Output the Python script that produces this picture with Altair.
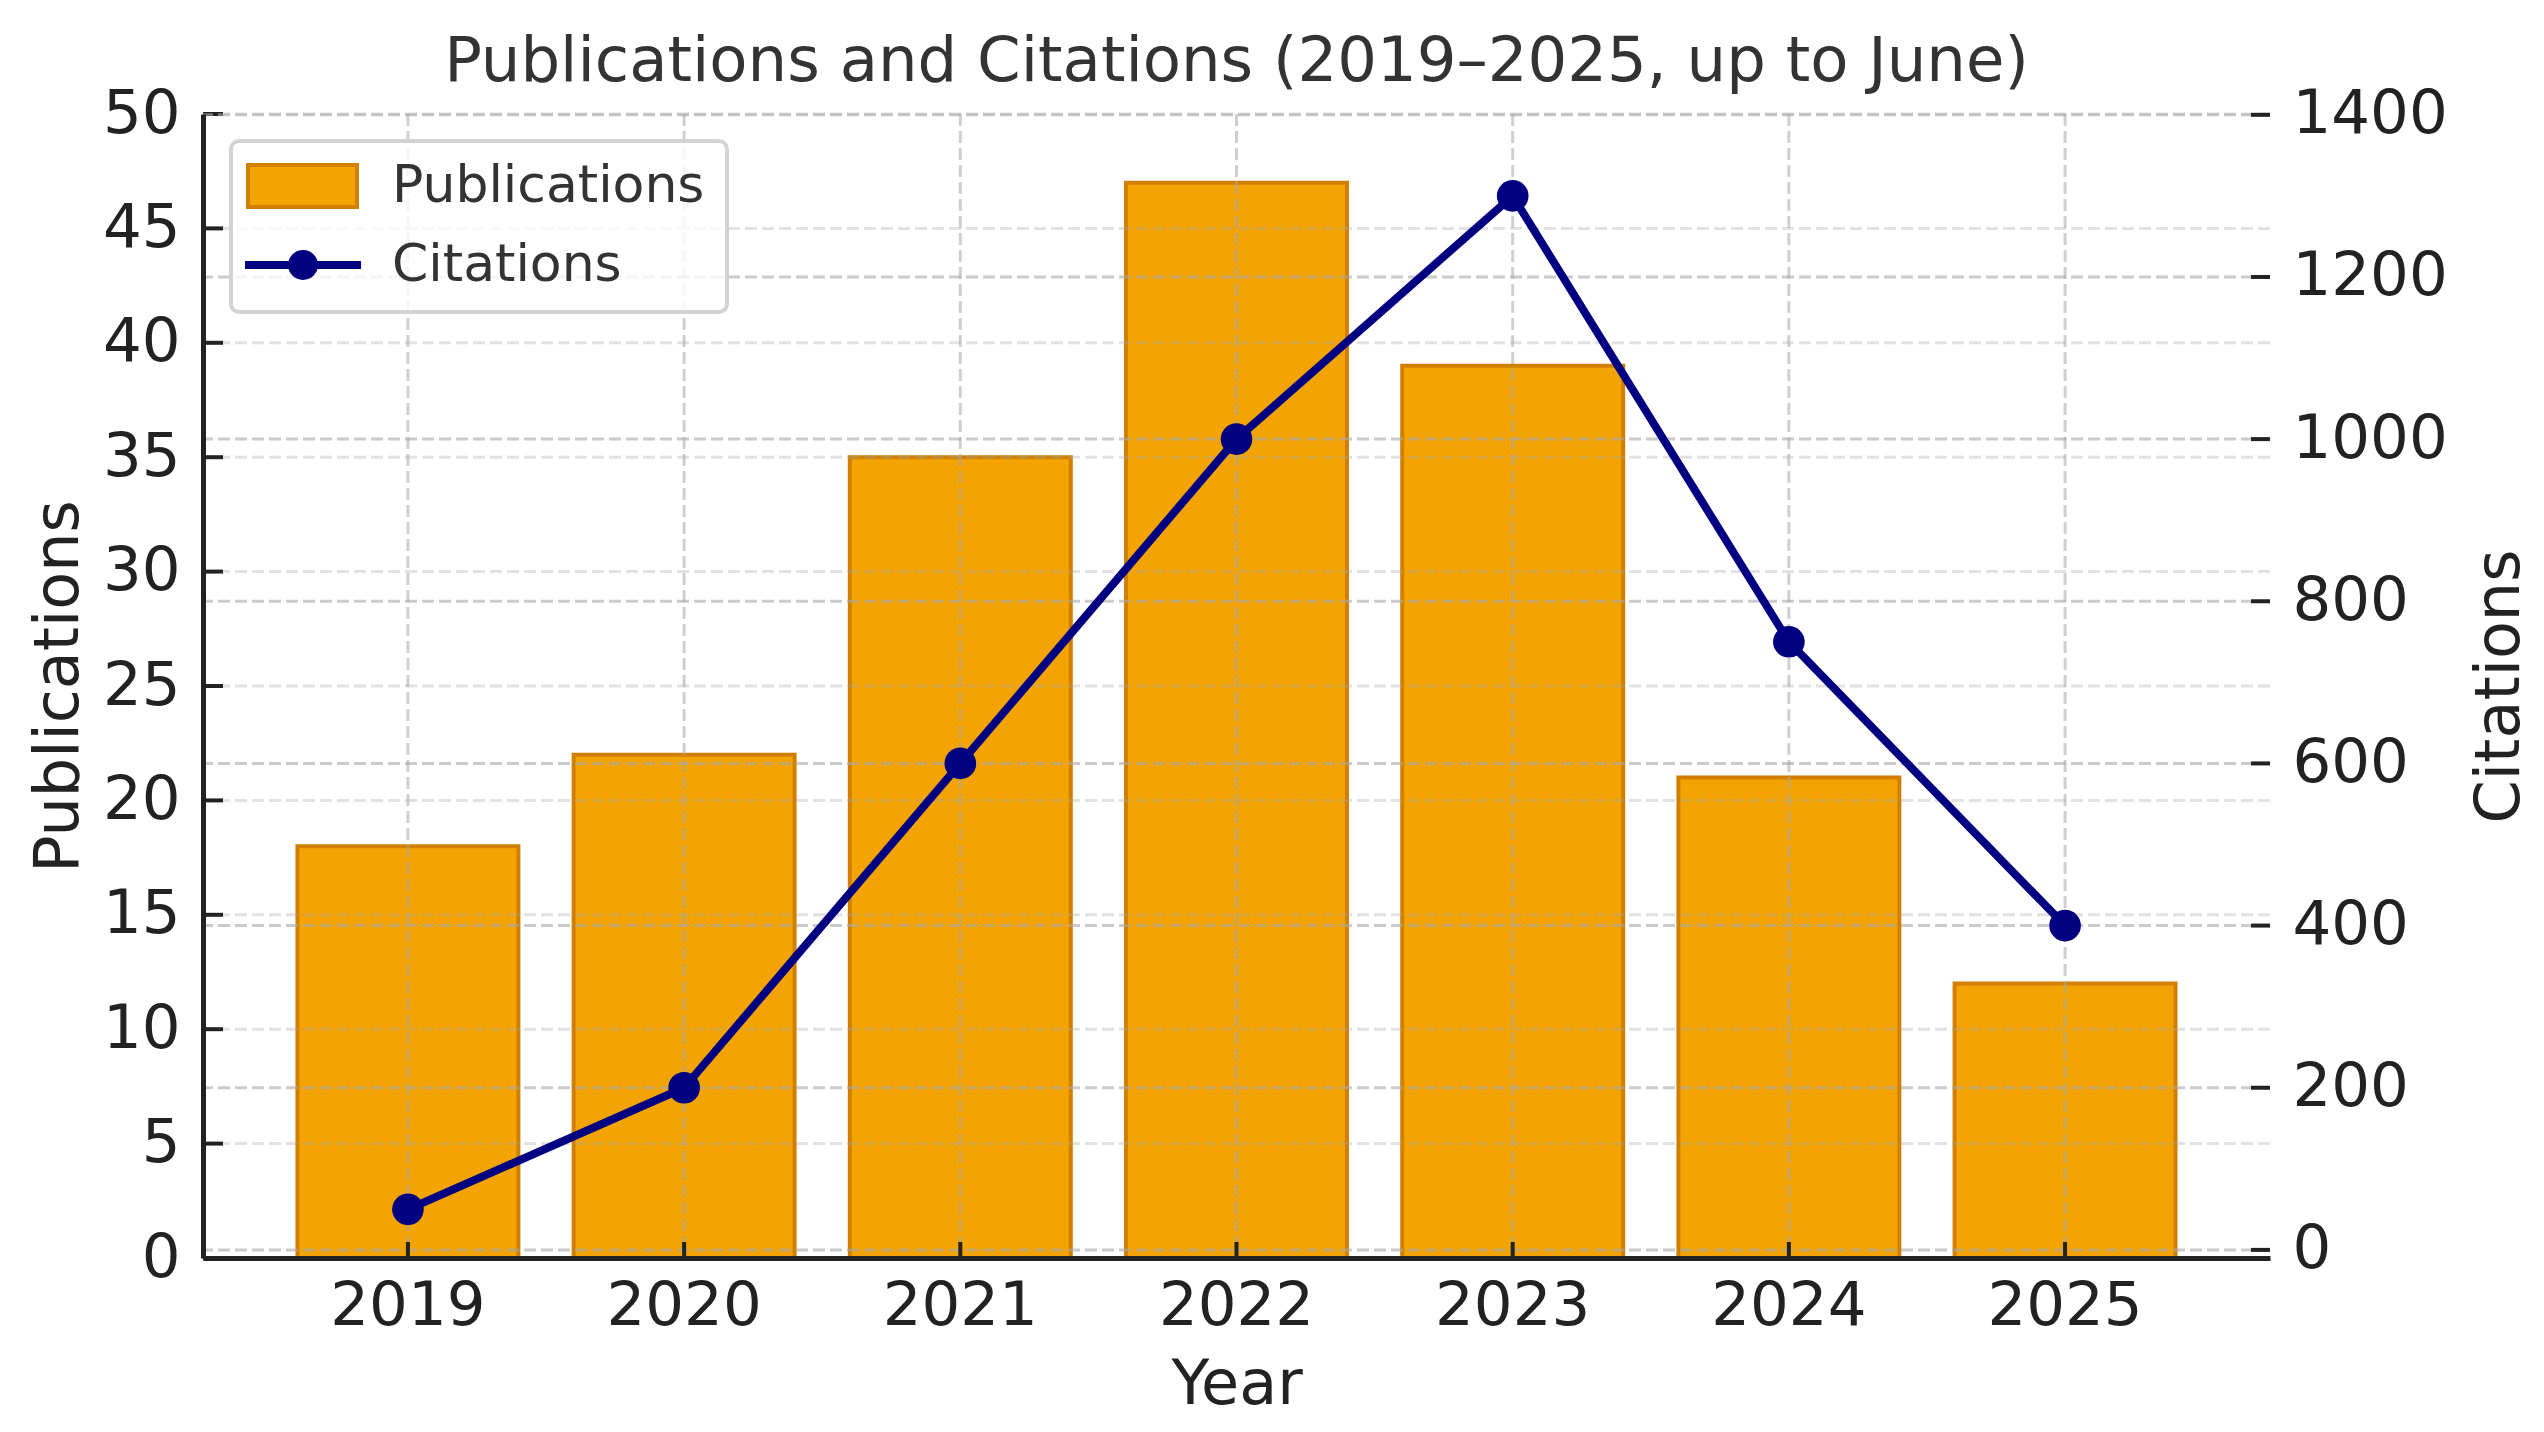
import altair as alt
import pandas as pd

# ---- data ----
years = ["2019", "2020", "2021", "2022", "2023", "2024", "2025"]
publications = [18, 22, 35, 47, 39, 21, 12]
citations = [50, 200, 600, 1000, 1300, 750, 400]
pub_ticks = [0, 5, 10, 15, 20, 25, 30, 35, 40, 45, 50]
cit_ticks = [0, 200, 400, 600, 800, 1000, 1200, 1400]
series_names = ["Publications", "Citations"]

# ---- styling ----
W, H = 2067, 1144
FONT = "DejaVu Sans"
ORANGE = "#F4A402"
EDGE = "#D17F00"
NAVY = "#000080"
GRID = "#a8a8a8"
INK = "#222222"
TXT = "#333333"
TICK_FS = 61
TITLE_FS = 62

df = pd.DataFrame({"Year": years, "Publications": publications, "Citations": citations})
pub_df = pd.DataFrame({"tick": pub_ticks})
cit_df = pd.DataFrame({"tick": cit_ticks})
leg_df = pd.DataFrame({"series": series_names})

x_scale = alt.Scale(domain=years, paddingInner=0.2, paddingOuter=0.342)
y_left = alt.Scale(domain=[0, 50], nice=False, zero=False)
y_right = alt.Scale(domain=[-10, 1401], nice=False, zero=False)

x_axis = alt.Axis(
    orient="bottom", title="Year", labelAngle=0, grid=False, ticks=False, tickSize=0,
    labelPadding=18, labelFont=FONT, labelFontSize=TICK_FS, labelColor=INK, labelFlush=False,
    domain=True, domainColor=INK, domainWidth=5, zindex=1,
    titleFont=FONT, titleFontSize=TITLE_FS, titleColor=INK, titleFontWeight="normal",
    titleBaseline="alphabetic", titleX=W / 2, titleY=145, titleAlign="center",
)
left_axis = alt.Axis(
    orient="left", values=pub_ticks, title="Publications", grid=False, ticks=False, tickSize=0,
    labelPadding=23, labelFont=FONT, labelFontSize=TICK_FS, labelColor=INK, labelFlush=False,
    labelOverlap=False, domain=True, domainColor=INK, domainWidth=5, zindex=1,
    titleFont=FONT, titleFontSize=TITLE_FS, titleColor=INK, titleFontWeight="normal",
    titleAngle=270, titleBaseline="alphabetic", titleAlign="center", titleX=-126, titleY=572,
)
right_axis = alt.Axis(
    orient="right", values=cit_ticks, format="d", title="Citations", grid=False, ticks=False, tickSize=0,
    labelPadding=22, labelFont=FONT, labelFontSize=TICK_FS, labelColor=INK, labelFlush=False,
    labelOverlap=False, domain=False,
    titleFont=FONT, titleFontSize=TITLE_FS, titleColor=INK, titleFontWeight="normal",
    titleAngle=270, titleBaseline="alphabetic", titleAlign="center", titleX=248, titleY=572,
)

dash = [12, 5]
X = alt.X("Year:N", scale=x_scale, axis=x_axis)
Xc = alt.X("Year:N", scale=x_scale, axis=x_axis, bandPosition=0.5)

# ---- left (publications) group ----
bars = alt.Chart(df).mark_bar(fill=ORANGE, stroke=EDGE, strokeWidth=4).encode(
    x=X,
    y=alt.Y("Publications:Q", scale=y_left, axis=left_axis),
)
left_grid = alt.Chart(pub_df).mark_rule(color=GRID, opacity=0.33, strokeWidth=3, strokeDash=dash).encode(
    y=alt.Y("tick:Q", scale=y_left, axis=left_axis)
)
left_ticks = alt.Chart(pub_df).mark_rule(color=INK, strokeWidth=4).encode(
    y=alt.Y("tick:Q", scale=y_left, axis=left_axis), x=alt.value(0), x2=alt.value(20)
)
left_group = alt.layer(bars, left_grid, left_ticks)

# ---- right (citations) group ----
x_grid = alt.Chart(df).mark_rule(color=GRID, opacity=0.55, strokeWidth=3, strokeDash=dash).encode(
    x=Xc
)
x_ticks = alt.Chart(df).mark_rule(color=INK, strokeWidth=4).encode(
    x=Xc, y=alt.value(H), y2=alt.value(H - 16),
)
right_grid = alt.Chart(cit_df).mark_rule(color=GRID, opacity=0.6, strokeWidth=3, strokeDash=dash).encode(
    y=alt.Y("tick:Q", scale=y_right, axis=right_axis)
)
right_ticks = alt.Chart(cit_df).mark_rule(color=INK, strokeWidth=4).encode(
    y=alt.Y("tick:Q", scale=y_right, axis=right_axis), x=alt.value(W - 19), x2=alt.value(W)
)
line = alt.Chart(df).mark_line(color=NAVY, strokeWidth=8, strokeJoin="round", strokeCap="round").encode(
    x=X,
    y=alt.Y("Citations:Q", scale=y_right, axis=right_axis),
)
points = alt.Chart(df).mark_circle(color=NAVY, size=1000, opacity=1).encode(
    x=X,
    y=alt.Y("Citations:Q", scale=y_right, axis=right_axis),
)

# legend symbols (custom shapes): patch for bars, line+dot for the citations line
rect_path = "M-0.8,-0.6H2.314V0.6H-0.8Z M12.41,0"
line_path = ("M-0.828,-0.06H2.373V0.06H-0.828Z "
             "M0.401,0 A0.371,0.371 0 1,1 1.143,0 A0.371,0.371 0 1,1 0.401,0 Z M0,0.88")
leg = alt.Legend(title=None, orient="none", legendX=28, legendY=27, labelLimit=0)
legend_layer = alt.Chart(leg_df).transform_filter("false").mark_point(filled=True, opacity=1).encode(
    fill=alt.Fill("series:N", scale=alt.Scale(domain=series_names, range=[ORANGE, NAVY]), legend=leg),
    stroke=alt.Stroke("series:N", scale=alt.Scale(domain=series_names, range=[EDGE, NAVY]), legend=leg),
    shape=alt.Shape("series:N", scale=alt.Scale(domain=series_names, range=[rect_path, line_path]), legend=leg),
)

right_group = alt.layer(x_grid, right_grid, x_ticks, right_ticks, line, points, legend_layer)

chart = alt.layer(left_group, right_group).resolve_scale(y="independent").properties(
    width=W,
    height=H,
    title=alt.Title(
        "Publications and Citations (2019–2025, up to June)",
        font=FONT, fontSize=62.5, color=TXT, fontWeight="normal",
        anchor="middle", frame="group", baseline="alphabetic", offset=31, dy=91,
    ),
    autosize=alt.AutoSizeParams(type="none"),
    padding={"left": 195, "top": 106, "right": 266, "bottom": 166},
    background="white",
).configure_view(stroke="transparent").configure_legend(
    symbolSize=4900, symbolStrokeWidth=4, symbolOpacity=1,
    labelFont=FONT, labelFontSize=52, labelColor=TXT, labelOffset=79,
    rowPadding=13, padding=8, strokeColor="#d3d3d3", strokeWidth=4, cornerRadius=8,
    fillColor="rgba(255,255,255,0.8)",
)

chart.save("out.html", embed_options={"renderer": "svg", "actions": False})
